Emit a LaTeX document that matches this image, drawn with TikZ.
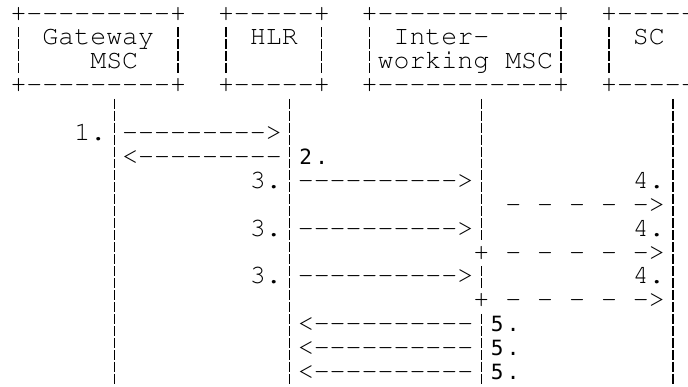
\documentclass[tikz,border=0pt]{standalone}
\usepackage[T1]{fontenc}
\usepackage{fontspec}
\newfontfamily\djvmono{DejaVu Sans Mono}
\newcommand\crfont{\usefont{T1}{pcr}{m}{n}\fontsize{26.6}{26.6}\selectfont}
\newcommand\djfont{\djvmono\fontsize{21}{21}\selectfont}
\newcommand\cell[1]{\makebox[15.96pt]{#1}}
% text piece whose first character sits in column #3 of row #4
\newcommand\At[5]{\node[#1] (#2) at ({10.52+15.96*(#3)},{-21.1-23.9*(#4)}) {#5};}
% vertical bar in column #2 from row #3 to row #4
\newcommand\Vbar[4]{%
  \coordinate (#1t) at ({18.5+15.96*(#2)},{-3.2-23.9*(#3)});
  \coordinate (#1b) at ({18.5+15.96*(#2)},{-25.2-23.9*(#4)});
  \draw[barline] (#1t) -- (#1b);}
\begin{document}
\begin{tikzpicture}[x=1pt,y=1pt,
  cr/.style={anchor=base west,inner sep=0pt,outer sep=0pt,font=\crfont,
             text height=15pt,text depth=3pt},
  dj/.style={anchor=base west,inner sep=0pt,outer sep=0pt,font=\djfont,
             text height=15pt,text depth=3pt},
  barline/.style={line width=1.3pt,dash pattern=on 9.95pt off 2pt}]
\useasboundingbox (0,0) rectangle (688,-387);
% ---- box borders (rows 0 and 3)
\At{cr}{gwtop}{0}{0}{+-{}-{}-{}-{}-{}-{}-{}-{}-+}
\At{cr}{hlrtop}{13}{0}{+-{}-{}-{}-{}-+}
\At{cr}{iwtop}{22}{0}{+-{}-{}-{}-{}-{}-{}-{}-{}-{}-{}-+}
\At{cr}{sctop}{37}{0}{+-{}-{}-{}-{}-}
\At{cr}{gwbot}{0}{3}{+-{}-{}-{}-{}-{}-{}-{}-{}-+}
\At{cr}{hlrbot}{13}{3}{+-{}-{}-{}-{}-+}
\At{cr}{iwbot}{22}{3}{+-{}-{}-{}-{}-{}-{}-{}-{}-{}-{}-+}
\At{cr}{scbot}{37}{3}{+-{}-{}-{}-{}-}
% ---- box sides
\Vbar{s0}{0}{1}{2}
\Vbar{s1}{10}{1}{2}
\Vbar{s2}{13}{1}{2}
\Vbar{s3}{19}{1}{2}
\Vbar{s4}{22}{1}{2}
\Vbar{s5}{34}{1}{2}
\Vbar{s6}{37}{1}{2}
% ---- box labels
\At{cr}{gw1}{2}{1}{Gateway}
\At{cr}{gw2}{5}{2}{MSC}
\At{cr}{hlr}{15}{1}{HLR}
\At{cr}{iw1}{24}{1}{Inter-}
\At{cr}{iw2}{23}{2}{working MSC}
\At{cr}{sc}{39}{1}{SC}
% ---- lifelines
\Vbar{lgw}{6}{4}{15}
\Vbar{lhlr}{17}{4}{15}
\Vbar{liwa}{29}{4}{9}
\Vbar{liwb}{29}{11}{11}
\Vbar{liwc}{29}{13}{15}
\Vbar{lsc}{41}{4}{15}
% ---- messages
\At{cr}{n1}{4}{5}{1.}
\At{cr}{m1}{7}{5}{-{}-{}-{}-{}-{}-{}-{}-{}-{}>}
\At{cr}{m2}{7}{6}{<-{}-{}-{}-{}-{}-{}-{}-{}-}
\At{dj}{n2}{18}{6}{\cell{2}\cell{.}}
\foreach \r/\k in {7/a,9/b,11/c}{
  \At{cr}{n3\k}{15}{\r}{3.}
  \At{cr}{m3\k}{18}{\r}{-{}-{}-{}-{}-{}-{}-{}-{}-{}-{}>}
  \At{cr}{n4\k}{39}{\r}{4.}
}
\At{cr}{m4a}{31}{8}{- - - - ->}
\At{cr}{p4b}{29}{10}{+}
\At{cr}{m4b}{31}{10}{- - - - ->}
\At{cr}{p4c}{29}{12}{+}
\At{cr}{m4c}{31}{12}{- - - - ->}
\foreach \r/\k in {13/a,14/b,15/c}{
  \At{cr}{m5\k}{18}{\r}{<-{}-{}-{}-{}-{}-{}-{}-{}-{}-}
  \At{dj}{n5\k}{30}{\r}{\cell{5}\cell{.}}
}
\end{tikzpicture}
\end{document}
